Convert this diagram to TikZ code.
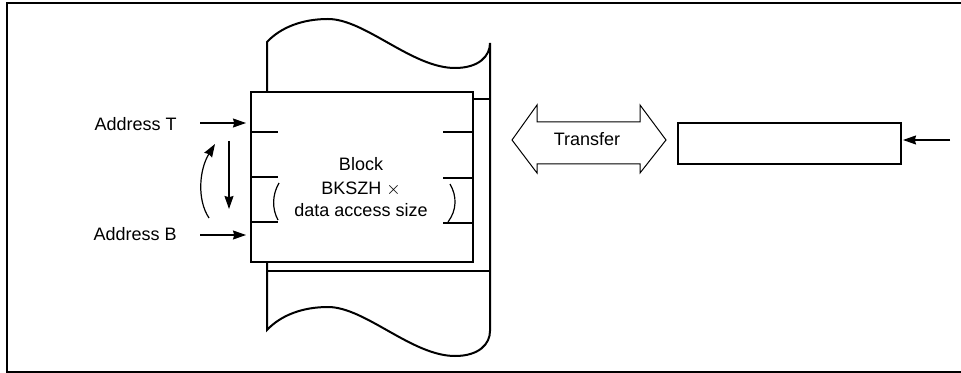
\documentclass[tikz,border=0pt]{standalone}
\usepackage{fontspec}
\setmainfont{Liberation Sans}
\usetikzlibrary{arrows.meta}
\begin{document}
\begin{tikzpicture}[x=0.5pt,y=-0.5pt,
  thickline/.style={line width=1pt},
  thinarrow/.style={line width=0.6pt,-{Stealth[length=6.5pt,width=4.5pt,inset=0.6pt]}},
  lbl/.style={inner sep=0pt,font=\fontsize{9}{11}\selectfont}]
\useasboundingbox (0,0) rectangle (961,373);
% frame (open to the right)
\draw[thickline] (961,3) -- (7,3) -- (7,372) -- (961,372);

% memory column with wavy cut edges
\draw[thickline,fill=white] (267,91) -- (267,42)
  .. controls (281,27) and (303,19) .. (328,19)
  .. controls (365,19) and (412,68) .. (455,68)
  .. controls (479,68) and (490,56) .. (490,43)
  -- (490,331)
  .. controls (490,344) and (479,356) .. (455,356)
  .. controls (412,356) and (365,307) .. (328,307)
  .. controls (303,307) and (281,315) .. (267,330)
  -- (267,261);
\draw[thickline] (267,271) -- (490,271);

% block
\node (block) [draw, thickline, fill=white, minimum width=111pt, minimum height=85pt,
  inner sep=0pt, anchor=north west] at (250,91) {};
\coordinate (blkR) at (472,99);
\coordinate (colR) at (490,99);
\draw[thickline] (blkR) -- (colR);

% ticks
\foreach \y [count=\i] in {132,177,222} {
  \coordinate (lt\i) at (250,\y);
  \coordinate (ltE\i) at (278,\y);
  \draw[thickline] (lt\i) -- (ltE\i);
}
\foreach \y [count=\i] in {132,178,223} {
  \coordinate (rt\i) at (472,\y);
  \coordinate (rtE\i) at (443,\y);
  \draw[thickline] (rt\i) -- (rtE\i);
}
% brackets
\draw[line width=0.6pt] (279,183) .. controls (272,195) and (272,209) .. (278,220);
\draw[line width=0.6pt] (450,184) .. controls (457,196) and (457,210) .. (448,222);

% block text
\node (t1) [lbl, anchor=base] at (361,171) {Block};
\node (t2) [lbl, anchor=base] at (361,195) {BKSZH $\times$};
\node (t3) [lbl, anchor=base] at (361,217) {data access size};

% address labels and arrows
\node (adT) [lbl, anchor=base east] at (177,131) {Address T};
\node (adB) [lbl, anchor=base east] at (177,241) {Address B};
\coordinate (aTs) at (200,123); \coordinate (aTe) at (246,123);
\coordinate (aBs) at (200,235); \coordinate (aBe) at (246,235);
\draw[thinarrow] (aTs) -- (aTe);
\draw[thinarrow] (aBs) -- (aBe);
\coordinate (dS) at (229,141); \coordinate (dE) at (229,209);
\draw[thinarrow] (dS) -- (dE);
\coordinate (uS) at (209,218); \coordinate (uE) at (215,144);
\draw[thinarrow] (uS) .. controls (197,200) and (199,170) .. (uE);

% transfer double arrow
\draw[line width=0.5pt] (512,140) -- (537,105) -- (537,122) -- (640,122) -- (640,105)
  -- (666,140) -- (640,173) -- (640,164) -- (537,164) -- (537,173) -- cycle;
\node (tr) [lbl, anchor=base] at (587,146) {Transfer};

% right buffer
\node (buf) [draw, line width=0.8pt, minimum width=111.5pt, minimum height=20.5pt,
  inner sep=0pt, anchor=north west] at (677,122) {};
\coordinate (inS) at (950,140); \coordinate (inE) at (903,140);
\draw[thinarrow] (inS) -- (inE);
\end{tikzpicture}
\end{document}
